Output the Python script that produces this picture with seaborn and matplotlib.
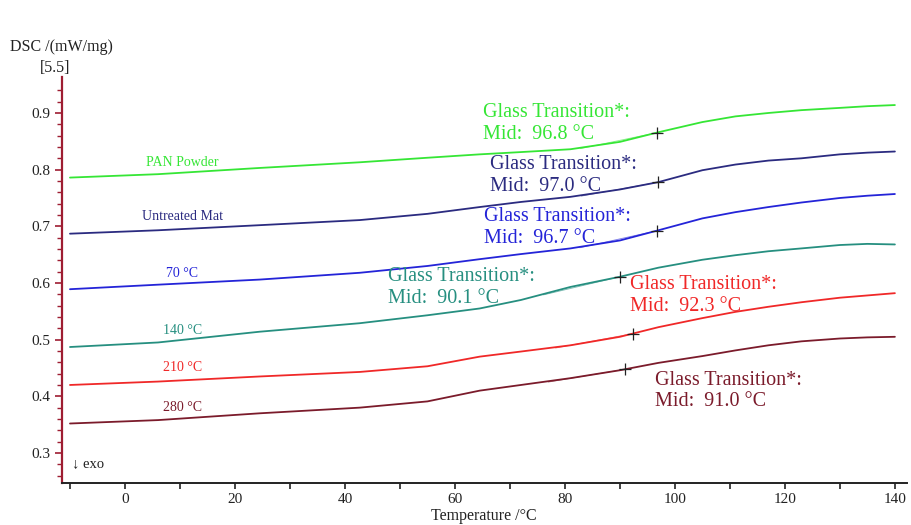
import numpy as np
import pandas as pd
import matplotlib
matplotlib.use("Agg")
import matplotlib.pyplot as plt
import seaborn as sns

# Temperature grid (°C) shared by all DSC traces
temperature = [-10, 6, 24.5, 42.7, 55, 64.5, 72, 81, 90, 97, 105, 111, 117, 123, 130, 135, 140]

# DSC signal (mW/mg) for each sample
pan_powder    = [0.786, 0.792, 0.803, 0.813, 0.821, 0.827, 0.831, 0.836, 0.849, 0.866, 0.884, 0.894, 0.900, 0.905, 0.909, 0.912, 0.914]
untreated_mat = [0.687, 0.693, 0.702, 0.711, 0.722, 0.734, 0.743, 0.752, 0.765, 0.778, 0.799, 0.809, 0.816, 0.820, 0.827, 0.830, 0.832]
treated_70    = [0.589, 0.597, 0.606, 0.618, 0.630, 0.642, 0.651, 0.661, 0.675, 0.693, 0.714, 0.725, 0.734, 0.742, 0.750, 0.754, 0.757]
treated_140   = [0.487, 0.495, 0.514, 0.529, 0.543, 0.555, 0.570, 0.593, 0.611, 0.627, 0.641, 0.649, 0.656, 0.661, 0.667, 0.669, 0.668]
treated_210   = [0.420, 0.426, 0.435, 0.443, 0.453, 0.470, 0.479, 0.490, 0.505, 0.522, 0.538, 0.549, 0.558, 0.566, 0.574, 0.578, 0.582]
treated_280   = [0.352, 0.358, 0.370, 0.380, 0.391, 0.410, 0.420, 0.432, 0.446, 0.459, 0.471, 0.481, 0.490, 0.497, 0.502, 0.504, 0.505]

samples = ["PAN Powder", "Untreated Mat", "70 °C", "140 °C", "210 °C", "280 °C"]
signals = [pan_powder, untreated_mat, treated_70, treated_140, treated_210, treated_280]
colors = ["#35e635", "#2b2b80", "#2424d8", "#268f80", "#f02828", "#7b1b2b"]

# Glass transition midpoints (°C)
tg_mid = [96.8, 97.0, 96.7, 90.1, 92.3, 91.0]

# Placement of the labels (data coords)
name_pos = [(10.4, 0.813), (10.4, 0.718), (10.4, 0.6175), (10.4, 0.517), (10.4, 0.450), (10.4, 0.381)]
tg_text_pos = [(65.1, 0.881), (66.4, 0.7894), (65.3, 0.6986), (47.8, 0.5919), (91.8, 0.5778), (96.4, 0.4093)]

df = pd.concat(
    [pd.DataFrame({"T": temperature, "DSC": s, "sample": n}) for n, s in zip(samples, signals)],
    ignore_index=True,
)

sns.set_style("ticks")
plt.rcParams["font.family"] = ["Liberation Serif", "DejaVu Serif"]

fig = plt.figure(figsize=(9.11, 5.25), dpi=100)
ax = fig.add_axes([62 / 911, 1 - 483 / 525, (907 - 62) / 911, (483 - 77) / 525])

sns.lineplot(
    data=df, x="T", y="DSC", hue="sample", palette=dict(zip(samples, colors)),
    hue_order=samples, estimator=None, sort=False, linewidth=1.3, legend=False, ax=ax,
)

for name, sig, col, tg, (nx, ny), (tx, ty) in zip(samples, signals, colors, tg_mid, name_pos, tg_text_pos):
    yg = np.interp(tg, temperature, sig)
    # tangent chord leading into the transition midpoint
    t0 = tg - 14
    ax.plot([t0, tg], [np.interp(t0, temperature, sig) - 0.0015, yg], color=col, lw=0.6, alpha=0.6)
    ax.plot([tg], [yg], marker="+", color="#222222", markersize=9, mew=0.9)
    ax.text(nx, ny, name, color=col, fontsize=10, ha="center", va="center")
    ax.text(tx, ty, f"Glass Transition*:\nMid:  {tg:.1f} °C", color=col, fontsize=14.5,
            ha="left", va="center", linespacing=1.2)

ax.text(-9.7, 0.282, "↓ exo", fontsize=10.5, ha="left", va="center", color="#222222")

ax.set_xlim(-11.45, 142.2)
ax.set_ylim(0.247, 0.9635)
ax.set_xticks(np.arange(0, 141, 20))
ax.set_xticks(np.arange(-10, 141, 10), minor=True)
ax.set_yticks(np.arange(0.3, 0.91, 0.1))
ax.set_yticks(np.arange(0.26, 0.96, 0.02), minor=True)
ax.set_yticklabels([f"{v:.1f}" for v in np.arange(0.3, 0.91, 0.1)])

for side in ("top", "right"):
    ax.spines[side].set_visible(False)
ax.spines["left"].set_color("#9e1d32")
ax.spines["left"].set_linewidth(1.6)
ax.spines["bottom"].set_color("#222222")
ax.spines["bottom"].set_linewidth(1.4)

ax.tick_params(axis="y", which="both", direction="out", left=True, colors="#9e1d32",
               labelcolor="#222222", labelsize=11)
ax.tick_params(axis="y", which="major", length=5, width=1.2)
ax.tick_params(axis="y", which="minor", length=3.5, width=1.0)
ax.tick_params(axis="x", which="both", direction="out", bottom=True, colors="#222222",
               labelsize=11, length=4, width=1.2)

fig.text(484 / 911, 1 - 516 / 525, "Temperature /°C", fontsize=11.5, ha="center", va="center", color="#222222")
ax.set_xlabel("")
ax.set_ylabel("")
fig.text(10 / 911, 1 - 47 / 525, "DSC /(mW/mg)", fontsize=11.5, ha="left", va="center", color="#222222")
fig.text(55 / 911, 1 - 68 / 525, "[5.5]", fontsize=11.5, ha="center", va="center", color="#222222")

fig.savefig("out.png", dpi=100)
